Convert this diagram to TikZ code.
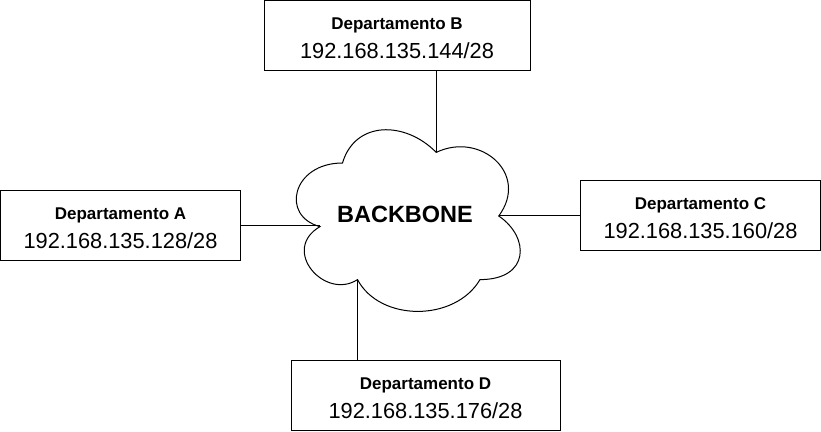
\documentclass[tikz,border=0pt]{standalone}
\usepackage{fontspec}
\setmainfont{Liberation Sans}
\usetikzlibrary{positioning}

\newcommand{\IPfont}{\fontsize{21.8}{29}\selectfont}
\newcommand{\Topstrut}{\rule{0pt}{17.5pt}}

\begin{document}
\begin{tikzpicture}[x=1pt, y=-1pt, line width=1pt]
		\tikzstyle{Dept}	= [rectangle, draw, fill=white, align=center, inner sep=0pt, minimum height=70pt, font=\fontsize{17}{29}\selectfont]
		\tikzstyle{Link}	= [draw, black]
		\tikzstyle{Cloud}	= [draw, fill=white]

		\useasboundingbox (0,0) rectangle (821,431);

		% backbone cloud
		\begin{scope}[shift={(280,110)}, xscale=250, yscale=212]
			\draw [Cloud] (0.25,0.25) .. controls (0.05,0.25) and (0,0.5) .. (0.16,0.55)
				.. controls (0,0.66) and (0.18,0.9) .. (0.31,0.8)
				.. controls (0.4,1) and (0.7,1) .. (0.8,0.8)
				.. controls (1,0.8) and (1,0.6) .. (0.875,0.5)
				.. controls (1,0.3) and (0.8,0.1) .. (0.625,0.2)
				.. controls (0.5,0.05) and (0.3,0.05) .. (0.25,0.25) -- cycle;
			\coordinate (cA) at (0.16,0.55);
			\coordinate (cB) at (0.625,0.2);
			\coordinate (cC) at (0.875,0.5);
			\coordinate (cD) at (0.31,0.8);
		\end{scope}
		\node (bb) at (405,214) {\fontsize{23.5}{28}\selectfont\bfseries BACKBONE};

		\node (A) at (120.5,225) [Dept, minimum width=240pt] {\Topstrut\textbf{Departamento A}\\{\IPfont 192.168.135.128/28}};
		\node (B) at (397,35.5) [Dept, minimum width=266pt] {\Topstrut\textbf{Departamento B}\\{\IPfont 192.168.135.144/28}};
		\node (C) at (700.5,215.5) [Dept, minimum width=240pt] {\Topstrut\textbf{Departamento C}\\{\IPfont 192.168.135.160/28}};
		\node (D) at (425.5,395.5) [Dept, minimum width=269pt] {\Topstrut\textbf{Departamento D}\\{\IPfont 192.168.135.176/28}};

		\draw [Link] (A.east) -- (A.east -| cA);
		\draw [Link] (cB) -- (cB |- B.south);
		\draw [Link] (C.west) -- (C.west -| cC);
		\draw [Link] (cD) -- (cD |- D.north);
\end{tikzpicture}
\end{document}
